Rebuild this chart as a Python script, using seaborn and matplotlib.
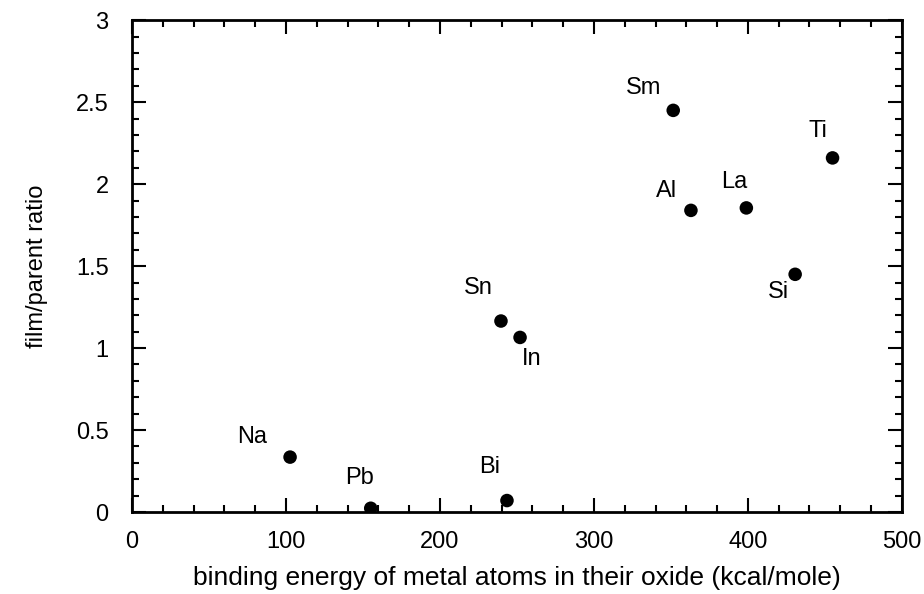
import numpy as np
import pandas as pd
import matplotlib.pyplot as plt
import seaborn as sns
from matplotlib.ticker import MultipleLocator

# values
metals = ["Na", "Pb", "Bi", "Sn", "In", "Sm", "Al", "La", "Ti", "Si"]
binding_energy = [102.6, 155, 243.5, 239.6, 252, 351.5, 363, 399, 455, 430.7]
film_parent_ratio = [0.335, 0.023, 0.07, 1.165, 1.065, 2.45, 1.84, 1.855, 2.16, 1.45]
# label offsets in pixels (dx, dy) relative to each dot
label_dx = [-38, -11, -17, -23, 12, -30, -24, -12, -15, -17]
label_dy = [20, 30, 34, 33, -22, 22, 19, 26, 27, -18]

df = pd.DataFrame({"metal": metals, "x": binding_energy, "y": film_parent_ratio})

sns.set_style("ticks")
plt.rcParams['font.family'] = ['Liberation Sans', 'DejaVu Sans']
plt.rcParams['text.color'] = 'black'
plt.rcParams['axes.labelcolor'] = 'black'

fig = plt.figure(figsize=(9.24, 5.94), dpi=100)
ax = fig.add_axes([0.143, 0.138, 0.833, 0.828])

sns.scatterplot(data=df, x="x", y="y", color="black", s=95, edgecolor="none", ax=ax, zorder=3)

for m, x, y, dx, dy in zip(metals, binding_energy, film_parent_ratio, label_dx, label_dy):
    ax.annotate(m, (x, y), xytext=(dx, dy), textcoords="offset pixels",
                ha="center", va="center", fontsize=17, color="black")

ax.set_xlim(0, 500)
ax.set_ylim(0, 3)
ax.xaxis.set_major_locator(MultipleLocator(100))
ax.xaxis.set_minor_locator(MultipleLocator(20))
ax.yaxis.set_minor_locator(MultipleLocator(0.1))
ax.set_yticks([0, 0.5, 1, 1.5, 2, 2.5, 3])
ax.set_yticklabels(["0", "0.5", "1", "1.5", "2", "2.5", "3"])

ax.tick_params(which="both", direction="in", top=True, right=True, width=1.5,
               color="black", labelcolor="black")
ax.tick_params(which="major", length=10, labelsize=17)
ax.tick_params(which="minor", length=5)
ax.tick_params(axis="y", which="major", pad=17)
ax.tick_params(axis="x", which="major", pad=14)

for sp in ax.spines.values():
    sp.set_linewidth(2)
    sp.set_color("black")

ax.set_xlabel("binding energy of metal atoms in their oxide (kcal/mole)", fontsize=19, labelpad=9)
ax.set_ylabel("film/parent ratio", fontsize=17, labelpad=20)

plt.savefig("out.png", dpi=100)
